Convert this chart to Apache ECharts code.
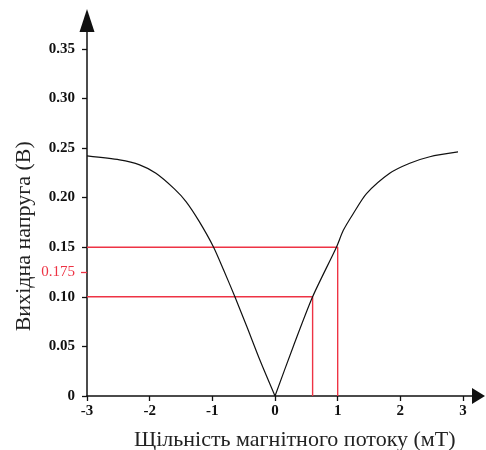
<!DOCTYPE html>
<html>
<head>
<meta charset="utf-8">
<script src="https://cdn.jsdelivr.net/npm/echarts@6/dist/echarts.min.js"></script>
<style>
html,body{margin:0;padding:0;background:#fff;}
#chart{width:486px;height:450px;}
</style>
</head>
<body>
<div id="chart"></div>
<script>
// Data
const leftX  = [-3, -2.48, -2.16, -1.9, -1.61, -1.42, -1.21, -0.98, -0.82, -0.64, -0.45, -0.24, 0];
const leftY  = [0.242, 0.238, 0.233, 0.2245, 0.209, 0.196, 0.176, 0.150, 0.127, 0.100, 0.070, 0.036, 0];
const rightX = [0, 0.29, 0.6, 0.98, 1.09, 1.25, 1.46, 1.83, 2.15, 2.47, 2.92];
const rightY = [0, 0.0497, 0.100, 0.150, 0.167, 0.184, 0.204, 0.2245, 0.2346, 0.2412, 0.246];

const guide1X = [-3, 1, 1];
const guide1Y = [0.15, 0.15, 0];
const guide2X = [-3, 0.6, 0.6];
const guide2Y = [0.10, 0.10, 0];

const xTicks = [-3, -2, -1, 0, 1, 2, 3];
const yTicks = [0, 0.05, 0.10, 0.15, 0.20, 0.25, 0.30, 0.35];
const markTickValue = [0.125];
const markTickLabel = '0.175';

const xName = 'Щільність магнітного потоку (мТ)';
const yName = 'Вихідна напруга (В)';

const zip = (xs, ys) => xs.map((x, i) => [x, ys[i]]);

const serif = '"Liberation Serif", "DejaVu Serif", serif';
const red = '#ee3344';

const chart = echarts.init(document.getElementById('chart'), null, {renderer: 'canvas'});
chart.setOption({
  animation: false,
  backgroundColor: '#ffffff',
  grid: {left: 87, right: 7.5, top: 20.5, bottom: 54, containLabel: false, outerBoundsMode: 'none'},
  xAxis: {
    type: 'value',
    min: -3, max: 3.247,
    name: xName,
    nameLocation: 'middle',
    nameGap: 33,
    nameTextStyle: {fontFamily: serif, fontSize: 22, color: '#222', padding: [0, 0, 0, 24]},
    axisLine: {show: true, onZero: false, lineStyle: {color: '#111', width: 1.5},
      symbol: ['none', 'triangle'], symbolSize: [16, 13]},
    axisTick: {show: true, length: 5, customValues: xTicks, lineStyle: {color: '#111', width: 1.3}},
    axisLabel: {customValues: xTicks, margin: 8, fontFamily: serif, fontSize: 15, fontWeight: 'bold', color: '#111',
      formatter: v => String(Math.round(v))},
    splitLine: {show: false}
  },
  yAxis: [{
    type: 'value',
    position: 'left',
    min: 0, max: 0.3785,
    name: yName,
    nameLocation: 'middle',
    nameGap: 52,
    nameRotate: 90,
    nameTextStyle: {fontFamily: serif, fontSize: 22, color: '#222', padding: [0, 56, 0, 0]},
    axisLine: {show: true, onZero: false, lineStyle: {color: '#111', width: 1.5},
      symbol: ['none', 'triangle'], symbolSize: [15, 23]},
    axisTick: {show: true, length: 5, customValues: yTicks, lineStyle: {color: '#111', width: 1.3}},
    axisLabel: {customValues: yTicks, margin: 12, fontFamily: serif, fontSize: 15, fontWeight: 'bold', color: '#111',
      formatter: v => (Math.abs(v) < 1e-9 ? '0' : v.toFixed(2))},
    splitLine: {show: false}
  }, {
    type: 'value',
    position: 'left',
    offset: 0,
    min: 0, max: 0.3785,
    axisLine: {show: false, onZero: false},
    axisTick: {show: true, length: 6, customValues: markTickValue, lineStyle: {color: red, width: 1.3}},
    axisLabel: {customValues: markTickValue, margin: 12, fontFamily: serif, fontSize: 15, color: red,
      formatter: () => markTickLabel},
    splitLine: {show: false}
  }],
  series: [
    {type: 'line', data: zip(guide1X, guide1Y), symbol: 'none', lineStyle: {color: red, width: 1.4}, z: 2},
    {type: 'line', data: zip(guide2X, guide2Y), symbol: 'none', lineStyle: {color: red, width: 1.4}, z: 2},
    {type: 'line', data: zip(leftX, leftY), symbol: 'none', smooth: 0.25,
      lineStyle: {color: '#111', width: 1.2}, z: 3},
    {type: 'line', data: zip(rightX, rightY), symbol: 'none', smooth: 0.25,
      lineStyle: {color: '#111', width: 1.2}, z: 3}
  ]
});
</script>
</body>
</html>
